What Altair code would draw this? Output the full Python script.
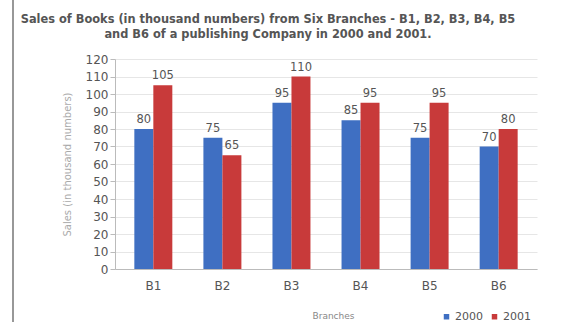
import altair as alt
import pandas as pd

branches = ["B1", "B2", "B3", "B4", "B5", "B6"]
sales_2000 = [80, 75, 95, 85, 75, 70]
sales_2001 = [105, 65, 110, 95, 95, 80]
years = ["2000", "2001"]
colors = ["#3f6fc2", "#c83a3a"]
y_ticks = list(range(0, 121, 10))

rows = []
for b, v0, v1 in zip(branches, sales_2000, sales_2001):
    rows.append({"Branch": b, "Year": years[0], "Sales": v0})
    rows.append({"Branch": b, "Year": years[1], "Sales": v1})
df = pd.DataFrame(rows)

font = "DejaVu Sans"

x_scale = alt.Scale(domain=branches, paddingInner=0.45, paddingOuter=0.28)
y_scale = alt.Scale(domain=[0, 120], nice=False)

x_enc = alt.X("Branch:N", sort=branches, title="Branches", scale=x_scale,
              axis=alt.Axis(labelAngle=0, labelFontSize=12, labelColor="#555555",
                            labelFont=font, ticks=False, labelPadding=11,
                            domainColor="#bbbbbb", titleFontSize=9,
                            titleColor="#888888", titleFont=font,
                            titleFontWeight="normal", titlePadding=20,
                            titleX=218))
y_enc = alt.Y("Sales:Q", title="Sales (in thousand numbers)", scale=y_scale,
              axis=alt.Axis(values=y_ticks, tickCount=30, labelFontSize=12,
                            labelColor="#555555", labelOverlap=False,
                            labelFont=font, tickSize=5, tickColor="#bbbbbb",
                            domainColor="#bbbbbb", gridColor="#e6e6e6",
                            labelPadding=2, titleFontSize=10, titleColor="#aaaaaa",
                            titleFont=font, titleFontWeight="normal",
                            titlePadding=13))
xoff = alt.XOffset("Year:N", sort=years)

bars = alt.Chart(df).mark_bar().encode(
    x=x_enc, y=y_enc, xOffset=xoff,
    color=alt.Color("Year:N", sort=years,
                    scale=alt.Scale(domain=years, range=colors),
                    legend=alt.Legend(title=None, orient="none", direction="horizontal",
                                      legendX=326, legendY=252, symbolType="square",
                                      symbolSize=30, labelFontSize=11,
                                      labelColor="#555555", labelFont=font,
                                      columnPadding=6, symbolStrokeWidth=0,
                                      labelOffset=3)),
)

labels = alt.Chart(df).mark_text(dy=-9, fontSize=11.5, color="#555555", font=font).encode(
    x=x_enc, y=y_enc, xOffset=xoff, text="Sales:Q"
)

border = alt.Chart(df).mark_rule(color="#999999", strokeWidth=1.5).encode(
    x=alt.value(-102), y=alt.value(-59), y2=alt.value(263)
)

chart = alt.layer(bars, labels, border).properties(
    width=422, height=210,
    background="white",
    title=alt.TitleParams(
        ["Sales of Books (in thousand numbers) from Six Branches - B1, B2, B3, B4, B5",
         "and B6 of a publishing Company in 2000 and 2001."],
        font=font, fontSize=11.4, fontWeight="bold", color="#555555",
        anchor="middle", dx=-58, offset=-41, lineHeight=15),
    autosize=alt.AutoSizeParams(type="none"),
    padding={"left": 115, "top": 59, "right": 42, "bottom": 53},
).configure_view(stroke=None)

chart.save("out.html", embed_options={"renderer": "svg", "actions": False})
